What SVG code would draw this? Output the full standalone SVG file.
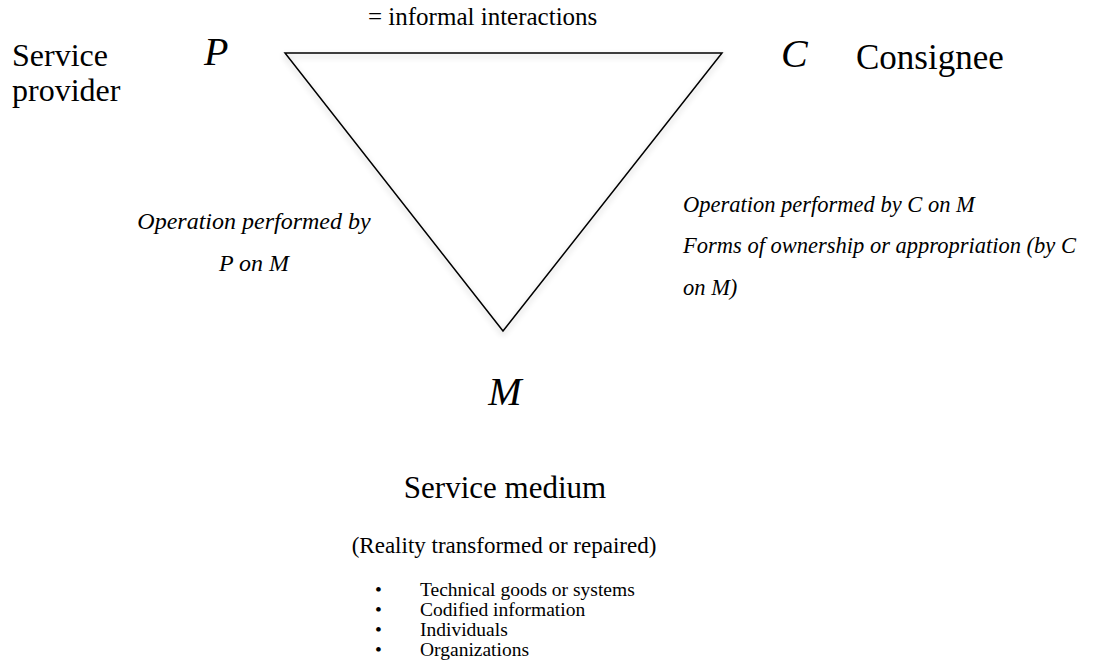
<svg xmlns="http://www.w3.org/2000/svg" width="1112" height="660" viewBox="0 0 1112 660">
  <defs>
    <filter id="soft" x="-10%" y="-10%" width="120%" height="130%">
      <feGaussianBlur in="SourceAlpha" stdDeviation="3"/>
      <feOffset dx="0" dy="3" result="b"/>
      <feComponentTransfer><feFuncA type="linear" slope="0.25"/></feComponentTransfer>
      <feMerge><feMergeNode/><feMergeNode in="SourceGraphic"/></feMerge>
    </filter>
  </defs>
  <style>
    .it { font-style: italic; }
    .mid { text-anchor: middle; }
    .edge { fill: none; stroke: #000; stroke-width: 1.5; stroke-linejoin: miter; }
  </style>
  <rect width="1112" height="660" fill="#fff"/>

  <!-- triangle sides linking P, C and M -->
  <g id="connectors">
    <path class="edge" filter="url(#soft)" d="M285,53 L722,53 L503,331 Z"/>
  </g>

  <g font-family="'Liberation Serif', 'DejaVu Serif', serif" fill="#000">
    <g id="edge-labels">
      <text x="368" y="25" font-size="25">= informal interactions</text>
      <text class="it mid" x="254" y="229" font-size="24">Operation performed by</text>
      <text class="it mid" x="254" y="271" font-size="24">P on M</text>
      <text class="it" x="683" y="212" font-size="22.5">Operation performed by C on M</text>
      <text class="it" x="683" y="253" font-size="22.5">Forms of ownership or appropriation (by C</text>
      <text class="it" x="683" y="295" font-size="22.5">on M)</text>
    </g>

    <g id="node-P">
      <text class="it" x="204" y="65" font-size="40">P</text>
      <text x="12" y="66" font-size="32">Service</text>
      <text x="12" y="101" font-size="32">provider</text>
    </g>

    <g id="node-C">
      <text class="it" x="781" y="67" font-size="40">C</text>
      <text x="856" y="69" font-size="35">Consignee</text>
    </g>

    <g id="node-M">
      <text class="it mid" x="505" y="405" font-size="40">M</text>
      <text class="mid" x="505" y="498" font-size="31">Service medium</text>
      <text class="mid" x="504" y="553" font-size="23">(Reality transformed or repaired)</text>
      <g font-size="19.5">
        <text x="375" y="596">•</text><text x="420" y="596">Technical goods or systems</text>
        <text x="375" y="616">•</text><text x="420" y="616">Codified information</text>
        <text x="375" y="636">•</text><text x="420" y="636">Individuals</text>
        <text x="375" y="656">•</text><text x="420" y="656">Organizations</text>
      </g>
    </g>
  </g>
</svg>
